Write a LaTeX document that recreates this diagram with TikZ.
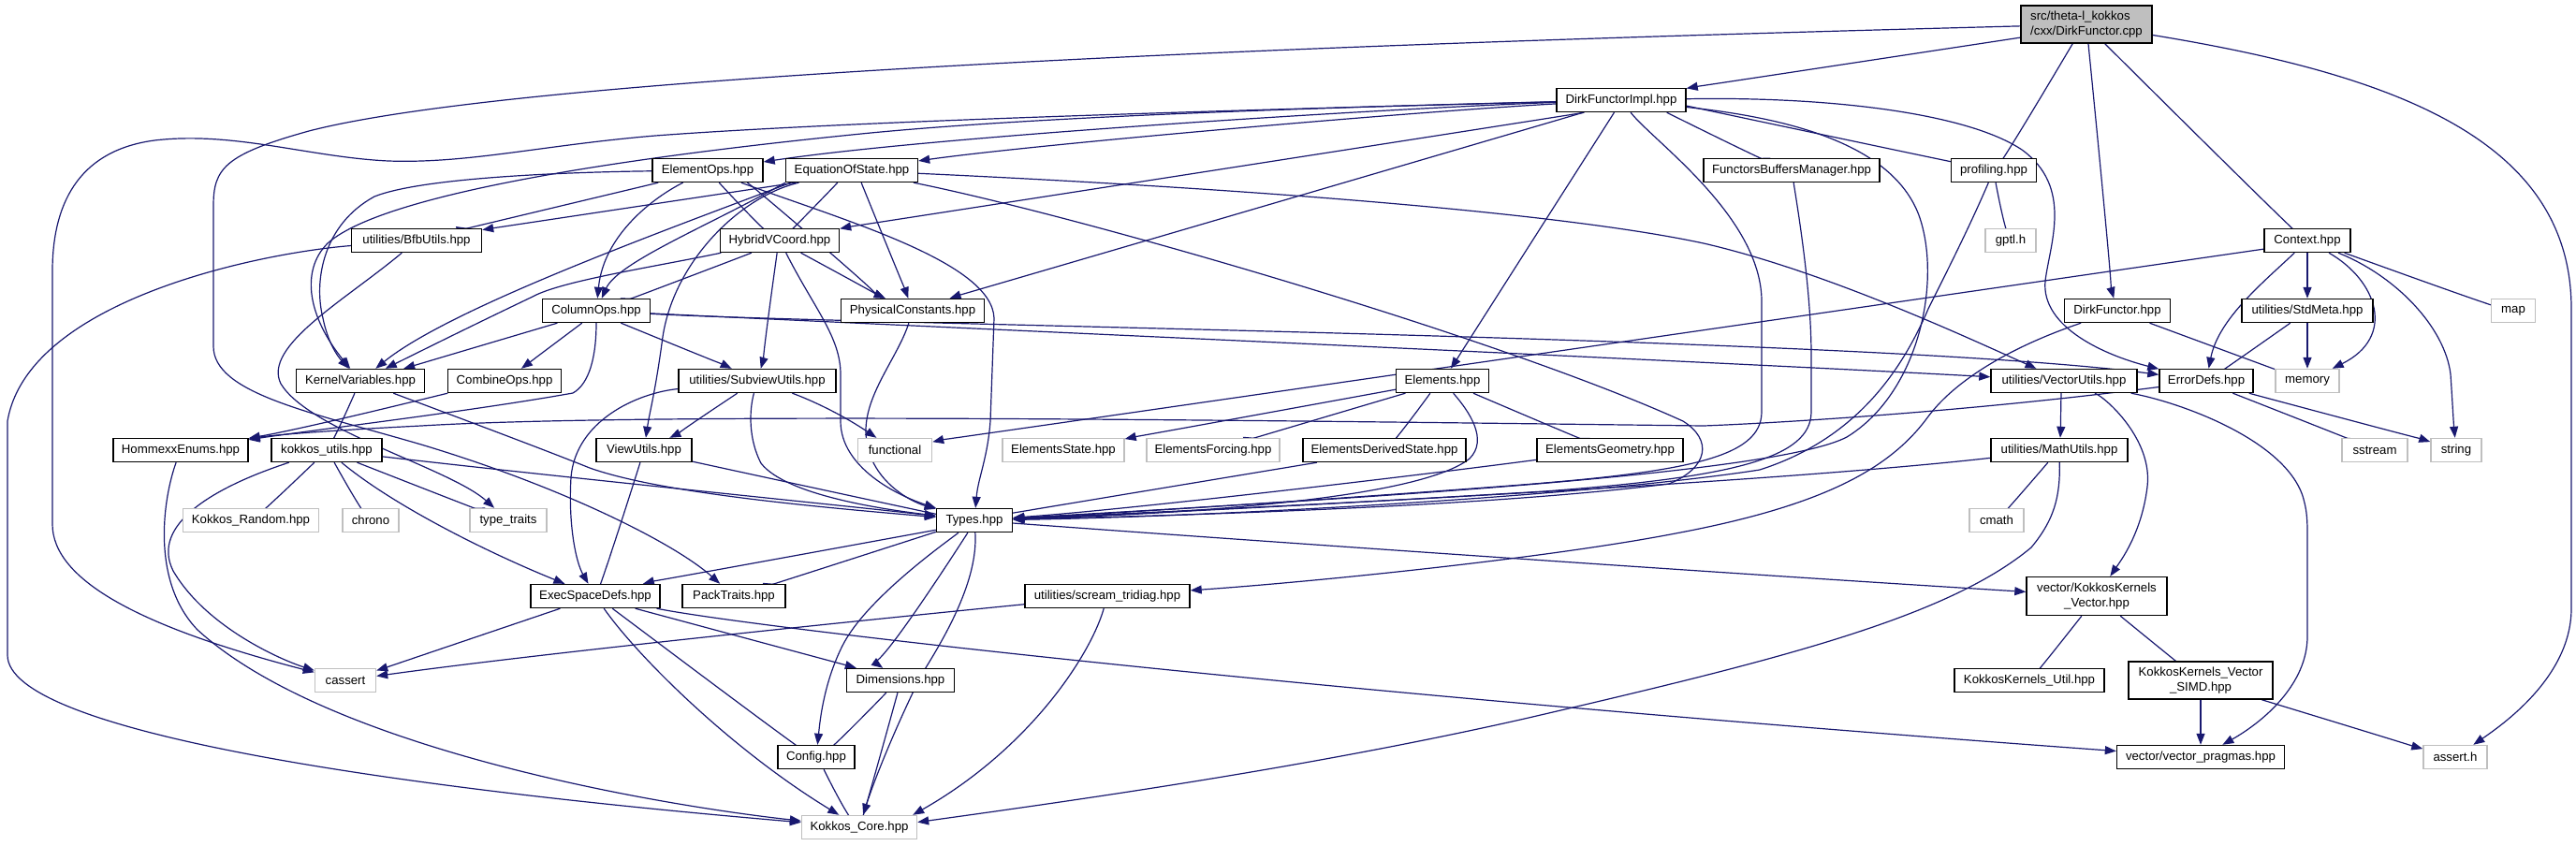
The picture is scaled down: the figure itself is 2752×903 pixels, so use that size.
\documentclass[tikz,border=0pt]{standalone}
\usepackage{fontspec}
\setmainfont{Liberation Sans}
\usetikzlibrary{arrows.meta}
\pgfdeclarelayer{bg}
\pgfdeclarelayer{paper}
\pgfsetlayers{paper,bg,main}
\definecolor{edgec}{HTML}{191970}
\definecolor{grayb}{HTML}{BFBFBF}
\definecolor{rootf}{HTML}{BFBFBF}
\newcommand\dxf{\fontsize{13.2}{15.5}\selectfont}
\newcommand\dxedge[4]{\draw[e] (#1) .. controls (#2) and (#3) .. (#4);}
\begin{document}
\begin{tikzpicture}[x=1pt,y=-1pt,
 box/.style={draw=black,line width=1.4pt,fill=white,minimum height=25pt,inner xsep=3pt,inner ysep=0pt,font=\dxf,text=black},
 gbox/.style={box,draw=grayb},
 e/.style={draw=edgec,line width=1.2pt,-{Triangle[length=12pt,width=9pt]}}]
\begin{pgfonlayer}{paper}
\fill[white] (0,0) rectangle (2752,903);
\end{pgfonlayer}
\useasboundingbox (0,0) rectangle (2752,903);
% nodes
\node[box,fill=rootf,minimum width=140pt,minimum height=40pt,align=left] (root) at (2229,26) {src/theta-l\_kokkos\\/cxx/DirkFunctor.cpp};
\node[box,minimum width=138pt] (dfi) at (1732,107) {DirkFunctorImpl.hpp};
\node[box,minimum width=118pt] (elemops) at (756,182) {ElementOps.hpp};
\node[box,minimum width=141pt] (eos) at (910,182) {EquationOfState.hpp};
\node[box,minimum width=188pt] (fbm) at (1914,182) {FunctorsBuffersManager.hpp};
\node[box,minimum width=91pt] (prof) at (2130,182) {profiling.hpp};
\node[box,minimum width=139pt] (bfb) at (445,257) {utilities/BfbUtils.hpp};
\node[box,minimum width=127pt] (hvc) at (833,257) {HybridVCoord.hpp};
\node[gbox,minimum width=54pt] (gptl) at (2148,257) {gptl.h};
\node[box,minimum width=92pt] (ctx) at (2465,257) {Context.hpp};
\node[box,minimum width=115pt] (colops) at (637,332) {ColumnOps.hpp};
\node[box,minimum width=153pt] (phys) at (975,332) {PhysicalConstants.hpp};
\node[box,minimum width=113pt] (dfh) at (2262,332) {DirkFunctor.hpp};
\node[box,minimum width=140pt] (stdmeta) at (2465,332) {utilities/StdMeta.hpp};
\node[gbox,minimum width=47pt] (map) at (2685,332) {map};
\node[box,minimum width=137pt] (kv) at (385,407) {KernelVariables.hpp};
\node[box,minimum width=121pt] (comb) at (539,407) {CombineOps.hpp};
\node[box,minimum width=168pt] (subv) at (809,407) {utilities/SubviewUtils.hpp};
\node[box,minimum width=99pt] (elems) at (1541,407) {Elements.hpp};
\node[box,minimum width=156pt] (vecu) at (2205,407) {utilities/VectorUtils.hpp};
\node[box,minimum width=100pt] (errd) at (2357,407) {ErrorDefs.hpp};
\node[gbox,minimum width=68pt] (memory) at (2465,407) {memory};
\node[box,minimum width=144pt] (henum) at (193,481) {HommexxEnums.hpp};
\node[box,minimum width=118pt] (ku) at (349,481) {kokkos\_utils.hpp};
\node[box,minimum width=102pt] (viewu) at (688,481) {ViewUtils.hpp};
\node[gbox,minimum width=79pt] (functional) at (956,481) {functional};
\node[gbox,minimum width=130pt] (estate) at (1136,481) {ElementsState.hpp};
\node[gbox,minimum width=142pt] (eforce) at (1296,481) {ElementsForcing.hpp};
\node[box,minimum width=174pt] (eds) at (1479,481) {ElementsDerivedState.hpp};
\node[box,minimum width=156pt] (egeo) at (1720,481) {ElementsGeometry.hpp};
\node[box,minimum width=146pt] (mathu) at (2200,481) {utilities/MathUtils.hpp};
\node[gbox,minimum width=70pt] (sstream) at (2537,481) {sstream};
\node[gbox,minimum width=54pt] (string) at (2624,481) {string};
\node[gbox,minimum width=145pt] (krand) at (268,556) {Kokkos\_Random.hpp};
\node[gbox,minimum width=60pt] (chrono) at (396,556) {chrono};
\node[gbox,minimum width=82pt] (tt) at (543,556) {type\_traits};
\node[box,minimum width=81pt] (types) at (1041,556) {Types.hpp};
\node[gbox,minimum width=58pt] (cmath) at (2133,556) {cmath};
\node[box,minimum width=138pt] (esd) at (636,637) {ExecSpaceDefs.hpp};
\node[box,minimum width=110pt] (pack) at (784,637) {PackTraits.hpp};
\node[box,minimum width=176pt] (tridiag) at (1183,637) {utilities/scream\_tridiag.hpp};
\node[box,minimum width=150pt,minimum height=41pt,align=center] (kkv) at (2240,637) {vector/KokkosKernels\\\_Vector.hpp};
\node[gbox,minimum width=65pt] (cassert) at (369,727) {cassert};
\node[box,minimum width=115pt] (dims) at (962,727) {Dimensions.hpp};
\node[box,minimum width=160pt] (kku) at (2168,727) {KokkosKernels\_Util.hpp};
\node[box,minimum width=154pt,minimum height=40pt,align=center] (simd) at (2351,727) {KokkosKernels\_Vector\\\_SIMD.hpp};
\node[box,minimum width=82pt] (config) at (872,809) {Config.hpp};
\node[box,minimum width=179pt] (vp) at (2351,809) {vector/vector\_pragmas.hpp};
\node[gbox,minimum width=68pt] (asserth) at (2623,809) {assert.h};
\node[gbox,minimum width=123pt] (kcore) at (918,884) {Kokkos\_Core.hpp};
% edges
\begin{pgfonlayer}{bg}
% root
\dxedge{root}{2159,40}{1804,94}{dfi}
\dxedge{root}{2214,47}{2142,169}{prof}
\dxedge{root}{2231,47}{2258,318}{dfh}
\dxedge{root}{2249,47}{2447,244}{ctx}
\draw[e] (root) .. controls (2560,80) and (2747,150) .. (2747,330) -- (2747,650) .. controls (2747,720) and (2680,770) .. (asserth);
\draw[e] (root) .. controls (1700,40) and (600,70) .. (330,140) .. controls (240,165) and (228,180) .. (228,220) -- (228,370) .. controls (228,420) and (330,440) .. (450,475) .. controls (600,520) and (720,580) .. (pack);
% DirkFunctorImpl
\draw[e] (dfi) .. controls (1500,115) and (1000,145) .. (elemops);
\draw[e] (dfi) .. controls (1500,120) and (1100,155) .. (eos);
\dxedge{dfi}{1690,121}{899,244}{hvc}
\dxedge{dfi}{1689,121}{1017,318}{phys}
\dxedge{dfi}{1724,121}{1551,392}{elems}
\draw[e] (dfi) .. controls (1400,115) and (1100,125) .. (920,143) .. controls (600,175) and (400,215) .. (350,260) .. controls (320,290) and (330,340) .. (kv);
\draw[e] (dfi) .. controls (1300,118) and (900,130) .. (700,145) .. controls (580,155) and (500,175) .. (415,172) .. controls (330,168) and (250,140) .. (165,150) .. controls (90,160) and (56,210) .. (56,290) -- (56,560) .. controls (56,620) and (150,670) .. (cassert);
\dxedge{dfi}{1780,120}{1879,169}{fbm}
\dxedge{dfi}{1801,113}{2084,173}{prof}
\draw[e] (dfi) .. controls (1950,103) and (2100,120) .. (2160,160) .. controls (2215,200) and (2190,260) .. (2185,300) .. controls (2180,350) and (2250,380) .. (errd);
\draw[e] (dfi) .. controls (1900,125) and (2020,150) .. (2050,230) .. controls (2075,300) and (2050,420) .. (1973,467) .. controls (1900,505) and (1500,530) .. (types);
\draw[e] (dfi) .. controls (1765,150) and (1880,230) .. (1882,320) -- (1882,440) .. controls (1882,490) and (1800,505) .. (1600,520) .. controls (1400,535) and (1200,548) .. (types);
% FunctorsBuffersManager, profiling, DirkFunctor
\draw[e] (fbm) .. controls (1925,250) and (1935,320) .. (1935,380) -- (1935,440) .. controls (1935,490) and (1850,510) .. (1650,525) .. controls (1400,540) and (1200,550) .. (types);
\draw[e] (prof) .. controls (2105,240) and (2085,280) .. (2060,330) .. controls (2030,400) and (1980,470) .. (1880,502) .. controls (1700,530) and (1300,552) .. (types);
\dxedge{prof}{2132,195}{2141,244}{gptl}
\draw[e] (dfh) .. controls (2150,370) and (2090,405) .. (2060,445) .. controls (2020,500) and (1950,540) .. (1790,570) .. controls (1650,597) and (1400,622) .. (tridiag);
\dxedge{dfh}{2296,345}{2434,396}{memory}
% Context
\dxedge{ctx}{2419,266}{997,472}{functional}
\draw[e] (ctx) .. controls (2420,300) and (2370,340) .. (errd);
\draw[e] (ctx) -- (stdmeta);
\draw[e] (ctx) .. controls (2540,300) and (2560,360) .. (memory);
\draw[e] (ctx) .. controls (2560,295) and (2612,350) .. (2618,400) .. controls (2620,430) and (2621,450) .. (string);
\dxedge{ctx}{2504,270}{2661,327}{map}
\dxedge{stdmeta}{2447,345}{2376,395}{errd}
\draw[e] (stdmeta) -- (memory);
\dxedge{errd}{2385,420}{2510,469}{sstream}
\dxedge{errd}{2402,420}{2596,472}{string}
\draw[e] (errd) .. controls (2100,440) and (1900,452) .. (1820,455) .. controls (1400,450) and (700,440) .. (450,455) .. controls (350,460) and (290,465) .. (henum);
% VectorUtils, MathUtils
\dxedge{vecu}{2202,420}{2201,467}{mathu}
\draw[e] (vecu) .. controls (2250,425) and (2300,470) .. (2294,520) .. controls (2288,570) and (2265,600) .. (kkv);
\draw[e] (vecu) .. controls (2330,430) and (2440,470) .. (2460,530) .. controls (2466,550) and (2465,560) .. (2465,600) -- (2465,680) .. controls (2465,730) and (2420,770) .. (vp);
\draw[e] (mathu) .. controls (1900,515) and (1400,540) .. (types);
\dxedge{mathu}{2188,494}{2146,543}{cmath}
\draw[e] (mathu) .. controls (2201,530) and (2195,555) .. (2170,585) .. controls (2080,660) and (1900,705) .. (1633,767) .. controls (1400,820) and (1150,855) .. (kcore.5);
% Types
\dxedge{types}{1001,566}{690,623}{esd}
\dxedge{types}{1001,568}{827,624}{pack}
\draw[e] (types) .. controls (1010,580) and (925,640) .. (900,690) .. controls (880,730) and (876,770) .. (config);
\dxedge{types}{1034,569}{942,713}{dims}
\draw[e] (types) .. controls (1045,620) and (1010,680) .. (985,720) .. controls (960,770) and (935,830) .. (kcore);
\draw[e] (types) .. controls (1300,575) and (1800,610) .. (kkv);
% ExecSpaceDefs, Dimensions, Config, tridiag
\dxedge{esd}{599,650}{410,714}{cassert}
\draw[e] (esd) .. controls (680,700) and (780,800) .. (kcore);
\dxedge{esd}{654,650}{848,796}{config}
\dxedge{esd}{678,650}{912,713}{dims}
\draw[e] (esd) .. controls (800,670) and (1400,740) .. (vp);
\dxedge{dims}{947,740}{892,797}{config}
\dxedge{dims}{959,740}{923,871}{kcore}
\dxedge{config}{880,822}{904,871}{kcore}
\draw[e] (tridiag) .. controls (1000,655) and (600,695) .. (cassert);
\draw[e] (tridiag) .. controls (1165,700) and (1100,800) .. (kcore.13);
% HommexxEnums, BfbUtils
\draw[e] (henum) .. controls (175,530) and (160,620) .. (211,673) .. controls (350,800) and (700,860) .. (kcore);
\draw[e] (bfb) .. controls (280,270) and (30,320) .. (8,450) -- (8,700) .. controls (8,780) and (400,840) .. (kcore);
\draw[e] (bfb) .. controls (370,320) and (280,370) .. (300,410) .. controls (330,460) and (480,500) .. (tt);
% ColumnOps
\dxedge{colops}{596,345}{434,393}{kv}
\dxedge{colops}{622,345}{558,393}{comb}
\dxedge{colops}{663,345}{780,393}{subv}
\draw[e] (colops) .. controls (637,380) and (630,410) .. (612,420) .. controls (500,440) and (330,460) .. (henum);
\draw[e] (colops) .. controls (900,347) and (2000,360) .. (errd);
\draw[e] (colops) .. controls (900,345) and (1800,385) .. (vecu);
% HybridVCoord
\draw[e] (hvc) .. controls (700,285) and (600,300) .. (569,317) .. controls (500,350) and (460,370) .. (kv);
\dxedge{hvc}{801,271}{675,319}{colops}
\dxedge{hvc}{830,271}{813,393}{subv}
\draw[e] (hvc) .. controls (870,330) and (898,360) .. (898,400) -- (898,450) .. controls (898,500) and (960,530) .. (types);
\dxedge{hvc}{857,271}{944,318}{phys}
% ElementOps
\draw[e] (elemops) .. controls (600,184) and (450,190) .. (400,210) .. controls (345,240) and (335,300) .. (345,340) .. controls (350,365) and (360,380) .. (kv);
\dxedge{elemops}{704,195}{499,244}{bfb}
\draw[e] (elemops) .. controls (700,210) and (645,250) .. (colops);
\dxedge{elemops}{769,196}{813,244}{hvc}
\dxedge{elemops}{801,196}{944,318}{phys}
\draw[e] (elemops) .. controls (900,235) and (1060,280) .. (1062,340) -- (1058,450) .. controls (1055,490) and (1045,510) .. (types);
% EquationOfState
\dxedge{eos}{851,195}{519,245}{bfb}
\draw[e] ([xshift=6pt]eos.south west) .. controls (700,250) and (480,330) .. (kv);
\draw[e] (eos.south west) .. controls (760,240) and (660,280) .. (colops);
\dxedge{eos}{895,195}{848,244}{hvc}
\draw[e] (eos) .. controls (790,210) and (720,280) .. (708,360) .. controls (700,420) and (694,440) .. (viewu);
\dxedge{eos}{920,195}{970,318}{phys}
\draw[e] (eos) .. controls (1300,200) and (1657,225) .. (1820,260) .. controls (1950,290) and (2100,360) .. (vecu);
\draw[e] (eos) .. controls (1150,230) and (1600,360) .. (1798,450) .. controls (1830,470) and (1825,500) .. (1783,517) .. controls (1600,540) and (1300,550) .. (types);
% PhysicalConstants
\draw[e] (phys) .. controls (960,380) and (925,420) .. (925,460) .. controls (925,510) and (970,535) .. (types);
% KernelVariables, CombineOps
\dxedge{kv}{379,420}{358,468}{ku}
\draw[e] (kv) .. controls (500,450) and (580,480) .. (630,500) .. controls (700,525) and (850,540) .. (types);
\draw[e] (comb) .. controls (470,422) and (330,457) .. (henum);
% SubviewUtils
\dxedge{subv}{788,420}{717,467}{viewu}
\draw[e] (subv) .. controls (680,420) and (615,450) .. (610,510) .. controls (607,560) and (615,600) .. (esd);
\draw[e] (subv) .. controls (800,440) and (800,470) .. (813,495) .. controls (840,530) and (950,545) .. (types);
\draw[e] (subv) .. controls (860,425) and (895,440) .. (functional);
% Elements
\dxedge{elems}{1492,416}{1202,469}{estate}
\dxedge{elems}{1505,419}{1340,468}{eforce}
\dxedge{elems}{1529,419}{1493,468}{eds}
\draw[e] (elems) .. controls (1570,440) and (1590,470) .. (1570,490) .. controls (1520,530) and (1300,548) .. (types);
\dxedge{elems}{1571,419}{1686,468}{egeo}
\dxedge{eds}{1408,494}{1082,548}{types}
\draw[e] (egeo) .. controls (1500,510) and (1200,545) .. (types);
% kokkos_utils
\dxedge{ku}{336,494}{285,543}{krand}
\dxedge{ku}{357,494}{384,543}{chrono}
\dxedge{ku}{381,494}{506,543}{tt}
\draw[e] (ku) .. controls (420,540) and (520,590) .. (esd);
\draw[e] (ku) .. controls (230,520) and (160,560) .. (185,610) .. controls (220,670) and (300,705) .. (cassert);
\draw[e] (ku) .. controls (600,510) and (900,540) .. (types);
% ViewUtils
\dxedge{viewu}{684,494}{643,624}{esd}
\dxedge{viewu}{739,493}{1001,550}{types}
% vector
\dxedge{kkv}{2224,658}{2180,714}{kku}
\dxedge{kkv}{2265,658}{2325,707}{simd}
\draw[e] (simd) -- (vp);
\dxedge{simd}{2414,747}{2588,800}{asserth}
\end{pgfonlayer}
\end{tikzpicture}
\end{document}
